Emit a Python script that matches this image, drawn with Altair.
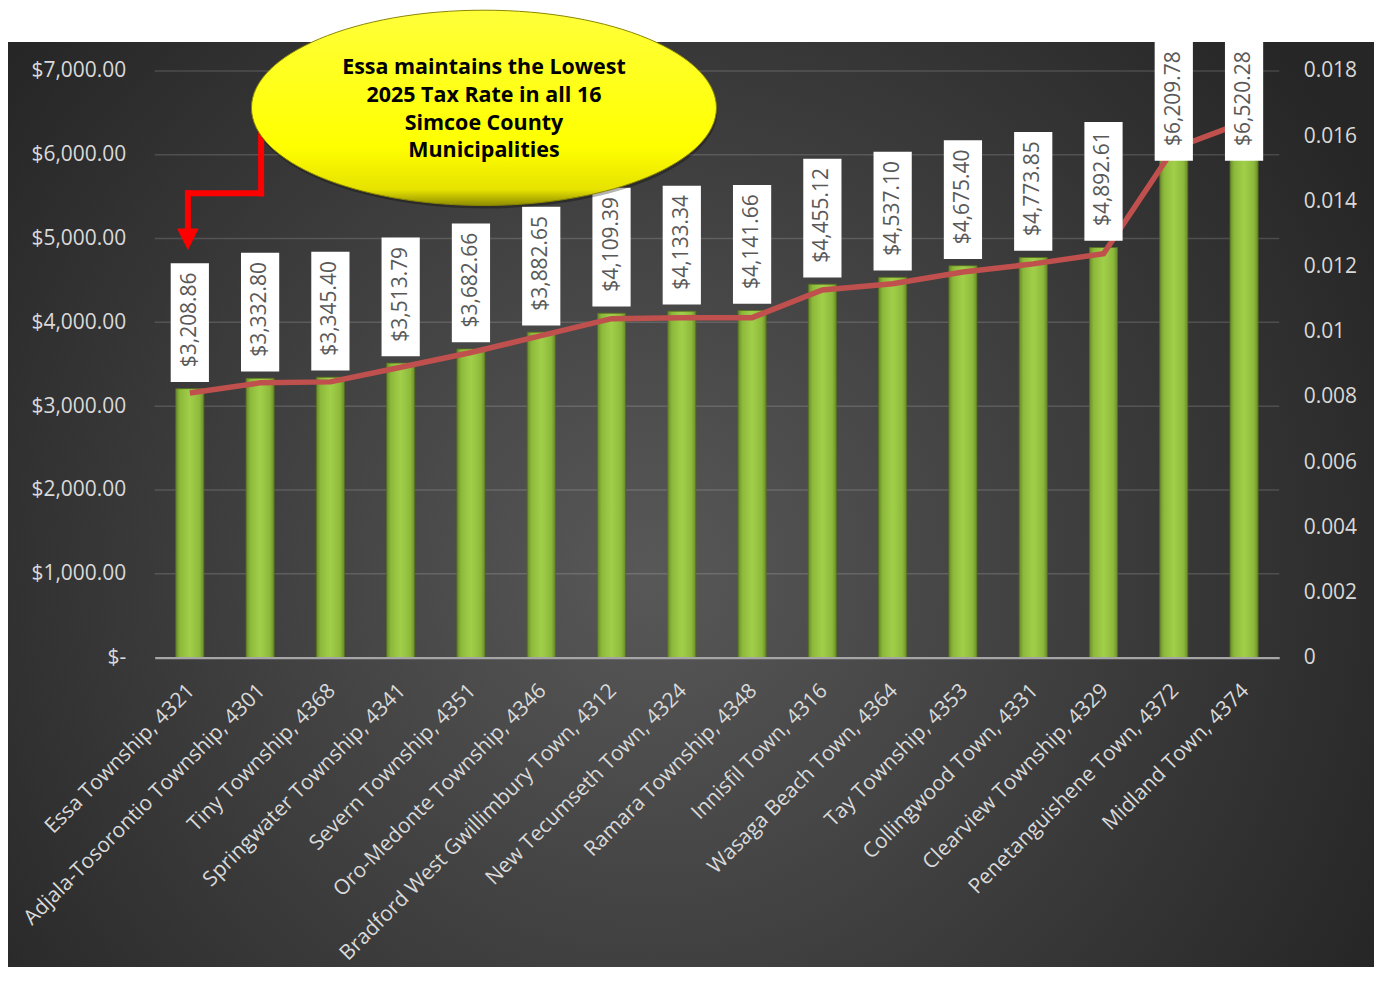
import altair as alt
import pandas as pd

# ---------------- data ----------------
municipalities = [
    "Essa Township, 4321", "Adjala-Tosorontio Township, 4301", "Tiny Township, 4368",
    "Springwater Township, 4341", "Severn Township, 4351", "Oro-Medonte Township, 4346",
    "Bradford West Gwillimbury Town, 4312", "New Tecumseth Town, 4324", "Ramara Township, 4348",
    "Innisfil Town, 4316", "Wasaga Beach Town, 4364", "Tay Township, 4353",
    "Collingwood Town, 4331", "Clearview Township, 4329", "Penetanguishene Town, 4372",
    "Midland Town, 4374",
]
taxes = [3208.86, 3332.80, 3345.40, 3513.79, 3682.66, 3882.65, 4109.39, 4133.34,
         4141.66, 4455.12, 4537.10, 4675.40, 4773.85, 4892.61, 6209.78, 6520.28]
rates = [0.00812, 0.00843, 0.00846, 0.00891, 0.00936, 0.00988, 0.01040, 0.01043,
         0.01043, 0.01128, 0.01147, 0.01183, 0.01208, 0.01239, 0.01562, 0.01643]
tax_ticks = [0, 1000, 2000, 3000, 4000, 5000, 6000, 7000]
rate_ticks = [0, 0.002, 0.004, 0.006, 0.008, 0.01, 0.012, 0.014, 0.016, 0.018]
callout_lines = ["Essa maintains the Lowest", "2025 Tax Rate in all 16",
                 "Simcoe County", "Municipalities"]

df = pd.DataFrame({"name": municipalities, "tax": taxes, "rate": rates})
grid_df = pd.DataFrame({"v": tax_ticks[1:]})
one = pd.DataFrame({"k": [0]})

W, H = 1127, 588
PAD = {"left": 147, "top": 62, "right": 95, "bottom": 310}

FONT = "Open Sans"
LABEL = "#d9d9d9"

tax_scale = alt.Scale(domain=[0, 7000], nice=False, zero=True)
rate_scale = alt.Scale(domain=[0, 0.018], nice=False, zero=True)

x_enc = alt.X(
    "name:N", sort=None,
    scale=alt.Scale(paddingInner=0.6, paddingOuter=0.3),
    axis=alt.Axis(title=None, labelAngle=-45, labelAlign="right", labelBaseline="top",
                  labelPadding=22, labelOffset=-6, labelFontSize=21, labelColor=LABEL,
                  labelFont=FONT, ticks=False, domainColor="#a6a6a6", domainWidth=2.5,
                  grid=False, labelLimit=0, labelOverlap=False, zindex=1),
)

# ---------------- background panel ----------------
bg_grad = alt.RadialGradient(
    gradient="radial",
    stops=[alt.GradientStop(offset=0, color="#585858"),
           alt.GradientStop(offset=1, color="#262626")],
    x1=0.47, y1=0.55, r1=0, x2=0.47, y2=0.55, r2=0.6,
)
background = alt.Chart(one).mark_rect(fill=bg_grad).encode(
    x=alt.value(-PAD["left"]), x2=alt.value(W + PAD["right"]),
    y=alt.value(-29), y2=alt.value(H + PAD["bottom"]),
)

gridlines = alt.Chart(grid_df).mark_rule(color="#ffffff", opacity=0.15, strokeWidth=1.5).encode(
    x=alt.value(0), x2=alt.value(W),
    y=alt.Y("v:Q", scale=tax_scale, axis=None),
)

# ---------------- bars ----------------
bar_grad = alt.LinearGradient(
    gradient="linear", x1=0, x2=1, y1=0, y2=0,
    stops=[alt.GradientStop(offset=0, color="#6a8b2b"),
           alt.GradientStop(offset=0.15, color="#8cb93a"),
           alt.GradientStop(offset=0.5, color="#a2cf4a"),
           alt.GradientStop(offset=0.85, color="#8cb93a"),
           alt.GradientStop(offset=1, color="#6a8b2b")],
)
bars = alt.Chart(df).mark_bar(fill=bar_grad, stroke="#55701e", strokeWidth=0.8).encode(
    x=x_enc,
    y=alt.Y("tax:Q", scale=tax_scale,
            axis=alt.Axis(title=None, values=tax_ticks, orient="left",
                          labelExpr="datum.value == 0 ? '$-\u00a0\u00a0' : '$' + format(datum.value, ',.2f')",
                          labelPadding=29, labelFontSize=21, labelColor=LABEL, labelFont=FONT,
                          ticks=False, domain=False, grid=False, zindex=1)),
)

# ---------------- rate line ----------------
line = alt.Chart(df).mark_line(color="#C0504D", strokeWidth=5.5).encode(
    x=x_enc,
    y=alt.Y("rate:Q", scale=rate_scale,
            axis=alt.Axis(title=None, orient="right", values=rate_ticks,
                          labelExpr="format(datum.value, '~g')",
                          labelPadding=24, labelFontSize=21, labelColor=LABEL, labelFont=FONT,
                          ticks=False, domain=False, grid=False, zindex=1)),
)

# ---------------- data labels ----------------
box_path = "M-1,-0.355L1,-0.355L1,-6.57L-1,-6.57Z"
labelled = alt.Chart(df).transform_calculate(lab="min(datum.tax, 5848)")
boxes = labelled.mark_point(shape=box_path, size=1467, filled=True, fill="white",
                            opacity=1, strokeWidth=0).encode(
    x=x_enc, y=alt.Y("lab:Q", scale=tax_scale, axis=None),
)
label_text = labelled.mark_text(angle=270, align="center", baseline="middle", dx=69,
                                fontSize=21, font=FONT, color="#595959").encode(
    x=x_enc, y=alt.Y("lab:Q", scale=tax_scale, axis=None),
    text=alt.Text("tax:Q", format="$,.2f"),
)

# ---------------- callout ----------------
ell_path = ("M-1,0C-1,-0.232,-0.552,-0.42,0,-0.42C0.552,-0.42,1,-0.232,1,0"
            "C1,0.232,0.552,0.42,0,0.42C-0.552,0.42,-1,0.232,-1,0Z")
ell_grad = alt.LinearGradient(
    gradient="linear", x1=0, x2=0, y1=0, y2=1,
    stops=[alt.GradientStop(offset=0, color="#ffff3a"),
           alt.GradientStop(offset=0.7, color="#ffff00"),
           alt.GradientStop(offset=0.92, color="#e6e200"),
           alt.GradientStop(offset=1, color="#8f8c00")],
)
ell_shadow = alt.Chart(one).mark_point(shape=ell_path, size=466 ** 2, filled=True,
                                       fill="#000000", opacity=0.3, strokeWidth=0).encode(
    x=alt.value(331), y=alt.value(40),
)
ellipse = alt.Chart(one).mark_point(shape=ell_path, size=466 ** 2, filled=True, fill=ell_grad,
                                    opacity=1, stroke="#8a8600", strokeWidth=1).encode(
    x=alt.value(330), y=alt.value(37),
)
callout_text = alt.Chart(one).mark_text(
    text=callout_lines, lineHeight=27.8, align="center", baseline="alphabetic",
    fontSize=21.5, font=FONT, fontWeight="bold", color="#000000",
).encode(x=alt.value(330), y=alt.value(3.3))

arrow_v1 = alt.Chart(one).mark_rule(color="#ff0000", strokeWidth=6).encode(
    x=alt.value(106.7), y=alt.value(60), y2=alt.value(125.7))
arrow_h = alt.Chart(one).mark_rule(color="#ff0000", strokeWidth=6).encode(
    y=alt.value(122.7), x=alt.value(30.3), x2=alt.value(109.7))
arrow_v2 = alt.Chart(one).mark_rule(color="#ff0000", strokeWidth=6).encode(
    x=alt.value(33.3), y=alt.value(119.7), y2=alt.value(162))
arrow_head = alt.Chart(one).mark_point(shape="M-1,-1L1,-1L0,1Z", size=470, filled=True,
                                       fill="#ff0000", opacity=1, strokeWidth=0).encode(
    x=alt.value(33.3), y=alt.value(168.8))

chart = alt.layer(
    background, gridlines, bars, line, boxes, label_text,
    arrow_v1, arrow_h, arrow_v2, arrow_head,
    ell_shadow, ellipse, callout_text,
).resolve_scale(y="independent").properties(
    width=W, height=H,
    autosize=alt.AutoSizeParams(type="none"),
    padding=PAD,
).configure(background="white").configure_view(stroke=None)

chart.save("out.html", embed_options={"renderer": "svg", "actions": False})
